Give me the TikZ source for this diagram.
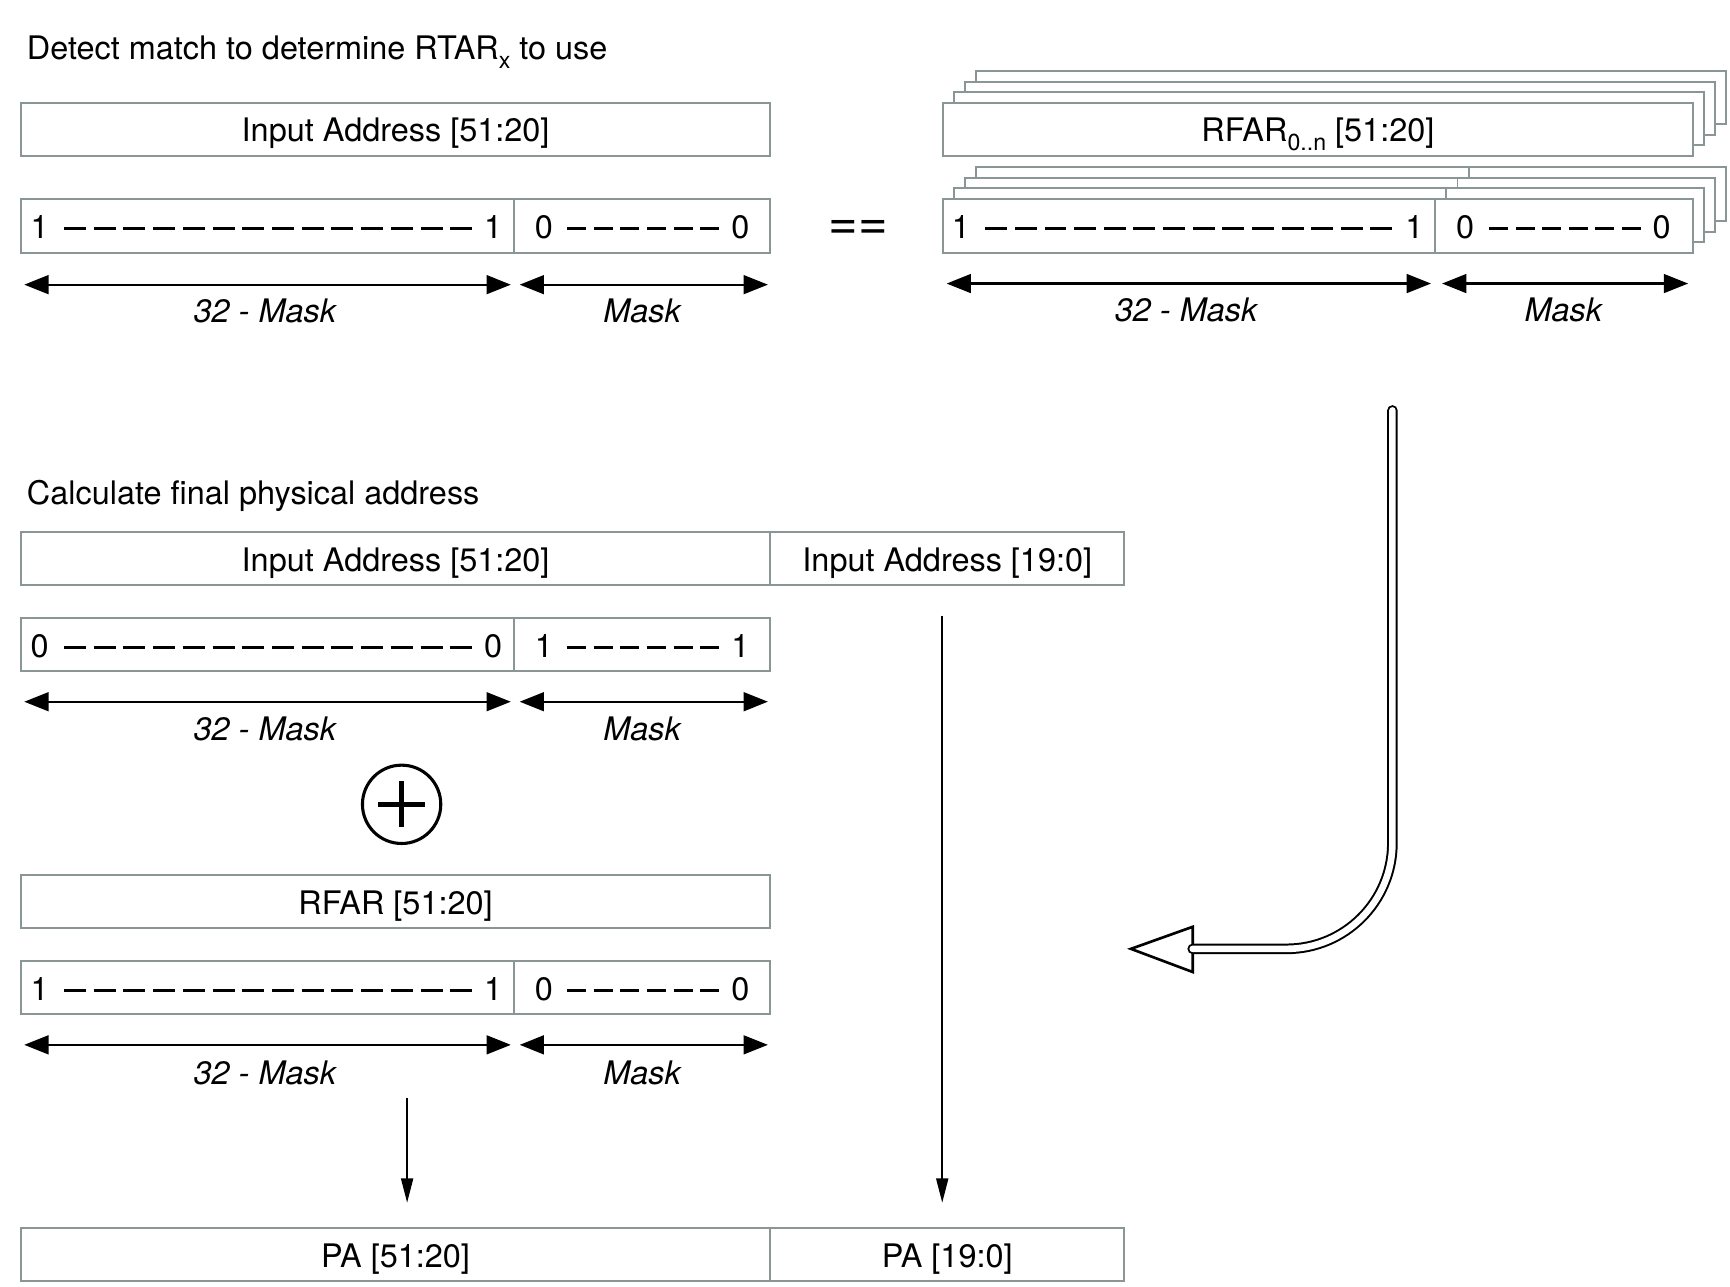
\documentclass[tikz,border=0pt]{standalone}
\usepackage{fontspec}
\setmainfont{TeX Gyre Heros}
\usetikzlibrary{arrows.meta}
\definecolor{boxgray}{RGB}{138,150,150}
\newcommand\dashrow[4]{%
  \pgfmathsetmacro\dlen{((#2)-(#1)-7*((#3)-1))/(#3)}%
  \foreach \k in {1,...,#3}{\draw[dsh] ({#1+(\k-1)*(\dlen+7)},#4) -- ++(\dlen,0);}}
\newcommand\lowsub[1]{\raisebox{-4pt}{\fontsize{10.5}{10.5}\selectfont #1}}
\tikzset{
  txt/.style={font=\fontsize{14.7}{17}\selectfont},
  reg/.style={draw=boxgray, line width=0.9pt, fill=white, minimum height=24pt, inner sep=0pt, txt},
  regtext/.style={text height=11.6pt, text depth=0pt},
  lbl/.style={font=\fontsize{14.7}{17}\selectfont\itshape, inner sep=0pt},
  dig/.style={txt, inner sep=0pt},
  dimarrow/.style={line width=1pt, {Triangle[length=11pt,width=8.5pt]}-{Triangle[length=11pt,width=8.5pt]}},
  dnarrow/.style={line width=0.7pt, -{Triangle[length=11pt,width=5.5pt]}},
  dsh/.style={line width=1.4pt},
  backbox/.style={draw=boxgray, line width=0.9pt, fill=white},
}
\begin{document}
\begin{tikzpicture}[x=0.5pt,y=-0.5pt]
\useasboundingbox[fill=white] (0,0) rectangle (1568,1166);

% ---------- Section 1 ----------
\node[txt, anchor=base west, inner sep=0pt] (title1) at (24,54) {Detect match to determine RTAR\lowsub{x} to use};
\node[reg, regtext, minimum width=339.5pt] (ia1) at (358.5,117) {Input Address [51:20]};
\node[reg, minimum width=223.5pt, minimum height=24.5pt] (m1a) at (242.5,204.5) {};
\node[reg, minimum width=116pt, minimum height=24.5pt] (m1b) at (582,204.5) {};
\node[dig] (m1a1) at (36,206) {1};
\node[dig] (m1a2) at (447,206) {1};
\dashrow{58}{428}{14}{207}
\node[dig] (m1b1) at (493,206) {0};
\node[dig] (m1b2) at (671,206) {0};
\dashrow{514}{652}{6}{207}
\coordinate (d1a) at (22,258); \coordinate (d1b) at (463,258);
\coordinate (d1c) at (471,258); \coordinate (d1d) at (696,258);
\draw[dimarrow] (d1a) -- (d1b);
\draw[dimarrow] (d1c) -- (d1d);
\node[lbl] (l1a) at (240,282) {32 - Mask};
\node[lbl] (l1b) at (582,282) {Mask};

\node[inner sep=0pt, font=\fontsize{23}{23}\selectfont] (eq) at (778,208) {==};

% right stack
\foreach \k in {3,2,1}{
  \draw[backbox] ({855+10*\k},{93-9.5*\k}) rectangle ++(679,48);
}
\node[reg, regtext, minimum width=339.5pt] (rf) at (1194.5,117) {RFAR\lowsub{0..n} [51:20]};
\foreach \k in {3,2,1}{
  \draw[backbox] ({855+10*\k},{180-9.5*\k}) rectangle ++(679,49);
  \draw[boxgray, line width=0.9pt] ({1301+10*\k},{180-9.5*\k}) -- ++(0,49);
}
\node[reg, minimum width=223pt, minimum height=24.5pt] (m4a) at (1078,204.5) {};
\node[reg, minimum width=116.5pt, minimum height=24.5pt] (m4b) at (1417.5,204.5) {};
\node[dig] (m4a1) at (871,206) {1};
\node[dig] (m4a2) at (1282,206) {1};
\dashrow{893}{1262}{14}{207}
\node[dig] (m4b1) at (1328,206) {0};
\node[dig] (m4b2) at (1506,206) {0};
\dashrow{1350}{1487}{6}{207}
\coordinate (d4a) at (858,257); \coordinate (d4b) at (1297,257);
\coordinate (d4c) at (1307,257); \coordinate (d4d) at (1530,257);
\draw[dimarrow] (d4a) -- (d4b);
\draw[dimarrow] (d4c) -- (d4d);
\node[lbl] (l4a) at (1075,281) {32 - Mask};
\node[lbl] (l4b) at (1417,281) {Mask};

% curved double arrow
\coordinate (c1) at (1262,372);
\coordinate (c2) at (1081,860);
\draw[line width=1.2pt, fill=white, line join=miter] (1025,860) -- (1081,840) -- (1081,881) -- cycle;
\draw[line width=0.9pt, double=white, double distance=3pt, line cap=round, rounded corners=48pt] (c1) |- (c2);

% ---------- Section 2 ----------
\node[txt, anchor=base west, inner sep=0pt] (title2) at (24,457) {Calculate final physical address};
\node[reg, regtext, minimum width=339.5pt] (ia2a) at (358.5,506) {Input Address [51:20]};
\node[reg, regtext, minimum width=160.5pt] (ia2b) at (858.5,506) {Input Address [19:0]};
\node[reg, minimum width=223.5pt] (m2a) at (242.5,584) {};
\node[reg, minimum width=116pt] (m2b) at (582,584) {};
\node[dig] (m2a1) at (36,585.5) {0};
\node[dig] (m2a2) at (447,585.5) {0};
\dashrow{58}{428}{14}{586.5}
\node[dig] (m2b1) at (493,585.5) {1};
\node[dig] (m2b2) at (671,585.5) {1};
\dashrow{514}{652}{6}{586.5}
\coordinate (d2a) at (22,636); \coordinate (d2b) at (463,636);
\coordinate (d2c) at (471,636); \coordinate (d2d) at (696,636);
\draw[dimarrow] (d2a) -- (d2b);
\draw[dimarrow] (d2c) -- (d2d);
\node[lbl] (l2a) at (240,661) {32 - Mask};
\node[lbl] (l2b) at (582,661) {Mask};

\node[circle, draw, line width=1.4pt, minimum size=35.5pt, inner sep=0pt] (op) at (364,729) {};
\draw[line width=2.1pt] ([xshift=-10.5pt]op.center) -- ([xshift=10.5pt]op.center);
\draw[line width=2.1pt] ([yshift=-10.5pt]op.center) -- ([yshift=10.5pt]op.center);

\node[reg, regtext, minimum width=339.5pt] (rfar) at (358.5,817) {RFAR [51:20]};
\node[reg, minimum width=223.5pt] (m3a) at (242.5,895) {};
\node[reg, minimum width=116pt] (m3b) at (582,895) {};
\node[dig] (m3a1) at (36,896.5) {1};
\node[dig] (m3a2) at (447,896.5) {1};
\dashrow{58}{428}{14}{897.5}
\node[dig] (m3b1) at (493,896.5) {0};
\node[dig] (m3b2) at (671,896.5) {0};
\dashrow{514}{652}{6}{897.5}
\coordinate (d3a) at (22,947); \coordinate (d3b) at (463,947);
\coordinate (d3c) at (471,947); \coordinate (d3d) at (696,947);
\draw[dimarrow] (d3a) -- (d3b);
\draw[dimarrow] (d3c) -- (d3d);
\node[lbl] (l3a) at (240,972) {32 - Mask};
\node[lbl] (l3b) at (582,972) {Mask};

\node[reg, regtext, minimum width=339.5pt] (pa1) at (358.5,1137) {PA [51:20]};
\node[reg, regtext, minimum width=160.5pt] (pa2) at (858.5,1137) {PA [19:0]};

\coordinate (v1s) at (369,995); \coordinate (v1e) at (369,1090);
\coordinate (v2s) at (854,558); \coordinate (v2e) at (854,1090);
\draw[dnarrow] (v1s) -- (v1e);
\draw[dnarrow] (v2s) -- (v2e);
\end{tikzpicture}
\end{document}
